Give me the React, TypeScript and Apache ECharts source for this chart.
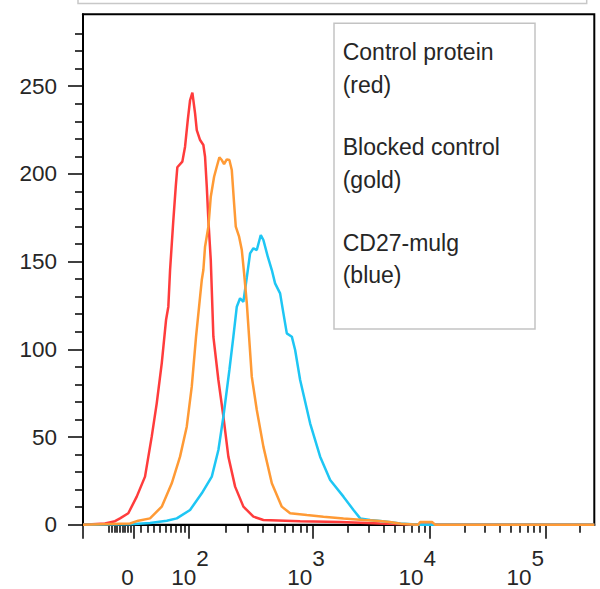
import React, { useEffect, useRef } from "react";
import * as echarts from "echarts";

// ---------- data ----------
// Histogram curves: [display channel (0..1000 across the plot), event count]
const controlProtein: [number, number][] = [
  [0, 0], [43, 0.7], [62.6, 2], [72.4, 3.6], [88.6, 6.5], [105.1, 16], [121.3, 27.4],
  [134.4, 50.2], [144.2, 69.2], [154, 92], [162.4, 116.7], [166.9, 124.3], [170.3, 145.2],
  [176.7, 173.7], [181.4, 192.7], [184.5, 203.8], [194.3, 207], [199.6, 215.5], [204.9, 230.7],
  [209.4, 242], [213.9, 246.3], [219.2, 234.5], [222.5, 225], [229, 219.3], [235.4, 216.5],
  [238.7, 209.8], [242.1, 192.7], [245.2, 173.7], [249.9, 150.9], [255, 107.2], [264.8, 82.5],
  [274.6, 61.6], [284.3, 38.8], [297.5, 21.7], [313.7, 10.3], [333.3, 4.6], [352.8, 2.7],
  [424.7, 2], [502.9, 1.5], [581.2, 0.7], [659.5, 0], [1000, 0],
];

const blockedControl: [number, number][] = [
  [0, 0], [92, 0.7], [108.2, 2.3], [131.1, 3.6], [154, 10.3], [173.6, 23.6], [189.8, 38.8],
  [202.9, 55.9], [212.7, 78.7], [221.1, 107.2], [229, 130], [232.3, 139.5], [235.4, 145.2],
  [238.7, 158.5], [245.2, 169.9], [249.9, 187], [256.4, 198.4], [261.6, 204.1], [266.7, 209.5],
  [271.4, 207.9], [275.9, 205.6], [281.2, 208.3], [286.3, 207.9], [291, 202.2], [295.5, 183.2],
  [298.8, 169.9], [305.3, 164.2], [310.6, 156.6], [315.1, 143.3], [320.4, 126.2], [330.1, 84.4],
  [339.9, 65.4], [352.8, 44.5], [369.3, 23.6], [388.8, 10.3], [405.1, 6.5], [437.8, 5.5],
  [470.3, 4.6], [509.4, 3.6], [548.5, 2.7], [574.8, 2.3], [600, 1.5], [622, 0.5], [655.6, 0],
  [659.5, 1.5], [683, 1.5], [688.8, 0], [1000, 0],
];

const cd27MuIg: [number, number][] = [
  [0, 0], [92, 0.3], [131.1, 1], [163.8, 2.3], [183.4, 3.6], [209.4, 8.4], [232.3, 17.9],
  [251.9, 27.4], [264.8, 42.6], [274.6, 61.6], [286.3, 88.2], [294.1, 107.2], [300.8, 124.3],
  [307.2, 129.1], [313.7, 127.1], [320.4, 141], [326.8, 154.7], [333.3, 157.6], [339.9, 156.6],
  [347.7, 165.2], [352.8, 162.3], [361.4, 152.8], [369.3, 145.2], [375.7, 137.6], [385.5, 131.9],
  [392, 120.5], [398.6, 109.1], [408.4, 107.2], [414.9, 99.6], [424.7, 82.5], [444.2, 57.8],
  [463.8, 38.8], [483.4, 25.5], [509.4, 16], [529, 8.4], [542.1, 3.6], [561.6, 2.7], [591, 1.8],
  [620.4, 0.7], [659.5, 0], [1000, 0],
];

const LEGEND_LINES = [
  "Control protein", "(red)",
  "Blocked control", "(gold)",
  "CD27-mulg", "(blue)",
];

// Y axis ticks
const Y_MAJOR = [0, 50, 100, 150, 200, 250];
const Y_MINOR = [10, 20, 30, 40, 60, 70, 80, 90, 110, 120, 130, 140, 160, 170, 180, 190, 210, 220, 230, 240, 260, 270, 280];

// X axis (biexponential display) tick values in fluorescence intensity
const X_MAJOR_VALUES = [0, 100, 1000, 10000, 100000];
const X_MINOR_VALUES = [
  -90, -80, -70, -60, -50, -40, -30, -20, -10,
  10, 20, 30, 40, 50, 60, 70, 80, 90,
  200, 300, 400, 500, 600, 700, 800, 900,
  2000, 3000, 4000, 5000, 6000, 7000, 8000, 9000,
  20000, 30000, 40000, 50000, 60000, 70000, 80000, 90000,
  200000,
];
const X_LABEL_BASE = ["0", "10", "10", "10", "10"];
const X_LABEL_SUP = ["", "2", "3", "4", "5"];
const X_LABEL_AT = [87.1, 209.4, 436, 653.6, 865]; // display channels of label centres

// ---------- scale ----------
const X_MIN = 0;
const X_MAX = 1000;
const Y_MAX = 291;
const ZERO_POS = 98.4;
const DECADE_POS = [206.1, 448.7, 679.1, 904.1]; // 10^2 .. 10^5
const NEG_SLOPE = 1.057;

function toDisplay(v: number): number {
  if (v >= 100) {
    const e = Math.log10(v);
    const k = Math.min(Math.floor(e), 5);
    const i = k - 2;
    const next = i + 1 < DECADE_POS.length ? DECADE_POS[i + 1] : DECADE_POS[3] + (DECADE_POS[3] - DECADE_POS[2]);
    return DECADE_POS[i] + (next - DECADE_POS[i]) * (e - k);
  }
  if (v >= 0) {
    return ZERO_POS + (DECADE_POS[0] - ZERO_POS) * Math.asinh(v / 60) / Math.asinh(100 / 60);
  }
  return ZERO_POS + v * NEG_SLOPE * 0.5;
}

const FONT = '"Liberation Sans", Arial, Helvetica, sans-serif';
const TEXT_COLOR = "#262626";
const AXIS_FONT_SIZE = 22.5;
const LEGEND_FONT_SIZE = 23;
const LINE_W = 2.5;

export default function App() {
  const ref = useRef<HTMLDivElement>(null);

  useEffect(() => {
    if (!ref.current) return;
    const chart = echarts.init(ref.current, undefined, { renderer: "svg" });

    const majorTicks = [X_MIN, ...X_MAJOR_VALUES.map(toDisplay)];
    const minorTicks = X_MINOR_VALUES.map(toDisplay).filter((d) => d > X_MIN + 2 && d < X_MAX);

    const baseX = {
      type: "value" as const,
      min: X_MIN,
      max: X_MAX,
      position: "bottom" as const,
      splitLine: { show: false },
    };

    const legendY = [51.7, 85, 147, 180, 243, 275];

    const option: any = {
      animation: false,
      grid: {
        left: 83, right: 5.7, top: 14.3, bottom: 64.3,
        containLabel: false, outerBoundsMode: "none",
        show: true, borderColor: "#000", borderWidth: 2, backgroundColor: "transparent",
      },
      xAxis: [
        {
          ...baseX,
          axisLine: { show: true, onZero: false, lineStyle: { color: "#000", width: 2 } },
          axisTick: { show: true, customValues: majorTicks, length: 14, lineStyle: { color: "#000", width: 1.5 } },
          axisLabel: { show: false },
        },
        {
          ...baseX,
          axisLine: { show: false },
          axisTick: { show: true, customValues: minorTicks, length: 8, lineStyle: { color: "#000", width: 1.5 } },
          axisLabel: { show: false },
        },
        {
          ...baseX,
          axisLine: { show: false },
          axisTick: { show: false },
          axisLabel: {
            show: true,
            customValues: X_LABEL_AT,
            margin: 64,
            verticalAlign: "bottom",
            formatter: (v: number) => {
              let idx = 0;
              let best = Infinity;
              X_LABEL_AT.forEach((p, i) => {
                if (Math.abs(p - v) < best) { best = Math.abs(p - v); idx = i; }
              });
              const sup = X_LABEL_SUP[idx];
              return sup ? `{b|${X_LABEL_BASE[idx]}}{s|${sup}}` : `{b|${X_LABEL_BASE[idx]}}`;
            },
            rich: {
              b: { fontSize: AXIS_FONT_SIZE, lineHeight: 22, fontFamily: FONT, color: TEXT_COLOR, verticalAlign: "bottom" },
              s: { fontSize: AXIS_FONT_SIZE, lineHeight: 22, fontFamily: FONT, color: TEXT_COLOR, verticalAlign: "bottom", padding: [0, 0, 18.5, 0] },
            },
          },
        },
      ],
      yAxis: [
        {
          type: "value", min: 0, max: Y_MAX, position: "left",
          splitLine: { show: false },
          axisLine: { show: true, onZero: false, lineStyle: { color: "#000", width: 2 } },
          axisTick: { show: true, customValues: Y_MAJOR, length: 15, lineStyle: { color: "#000", width: 1.5 } },
          axisLabel: {
            show: true, customValues: Y_MAJOR, margin: 26, fontSize: AXIS_FONT_SIZE, fontFamily: FONT,
            color: TEXT_COLOR, padding: [6, 0, 0, 0],
          },
        },
        {
          type: "value", min: 0, max: Y_MAX, position: "left",
          splitLine: { show: false },
          axisLine: { show: false },
          axisTick: { show: true, customValues: Y_MINOR, length: 8, lineStyle: { color: "#000", width: 1.5 } },
          axisLabel: { show: false },
        },
      ],
      series: [
        {
          name: "Control protein (red)", type: "line", data: controlProtein, showSymbol: false,
          xAxisIndex: 0, yAxisIndex: 0, lineStyle: { color: "#ff3c3c", width: LINE_W }, itemStyle: { color: "#ff3c3c" },
        },
        {
          name: "CD27-mulg (blue)", type: "line", data: cd27MuIg, showSymbol: false,
          xAxisIndex: 0, yAxisIndex: 0, lineStyle: { color: "#1ec6f4", width: LINE_W }, itemStyle: { color: "#1ec6f4" },
        },
        {
          name: "Blocked control (gold)", type: "line", data: blockedControl, showSymbol: false,
          xAxisIndex: 0, yAxisIndex: 0, lineStyle: { color: "#ff9a35", width: LINE_W }, itemStyle: { color: "#ff9a35" },
        },
      ],
      graphic: [
        {
          type: "rect", silent: true,
          shape: { x: 78, y: -40, width: 508.7, height: 43.5 },
          style: { fill: "none", stroke: "#c8c8c8", lineWidth: 1.5 },
        },
        {
          type: "rect", silent: true,
          shape: { x: 334, y: 23.3, width: 201, height: 305.7 },
          style: { fill: "none", stroke: "#c3c3c3", lineWidth: 1.5 },
        },
        ...LEGEND_LINES.map((t, i) => ({
          type: "text", silent: true, x: 342.7, y: legendY[i],
          style: {
            text: t, fontSize: LEGEND_FONT_SIZE, fontFamily: FONT, fill: TEXT_COLOR,
            align: "left", verticalAlign: "middle", textAlign: "left", textVerticalAlign: "middle",
          },
        })),
      ],
    };

    chart.setOption(option);
    return () => chart.dispose();
  }, []);

  return <div ref={ref} style={{ position: "absolute", left: 0, top: 0, width: 600, height: 589 }} />;
}
